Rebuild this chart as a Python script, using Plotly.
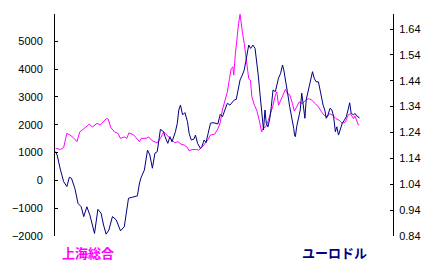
import plotly.graph_objects as go

# Shanghai Composite (left axis)
sh_years = [1999.03, 1999.26, 1999.41, 1999.56, 1999.71, 1999.86, 2000.04, 2000.17, 2000.39, 2000.62,
            2000.77, 2000.99, 2001.14, 2001.30, 2001.45, 2001.52, 2001.64, 2001.82, 2001.98, 2002.10,
            2002.28, 2002.40, 2002.50, 2002.73, 2003.00, 2003.08, 2003.31, 2003.43, 2003.61, 2003.84,
            2003.99, 2004.14, 2004.29, 2004.44, 2004.67, 2004.82, 2004.97, 2005.12, 2005.27, 2005.35,
            2005.50, 2005.65, 2005.80, 2005.95, 2006.10, 2006.25, 2006.36, 2006.56, 2006.71, 2006.82,
            2006.92, 2007.04, 2007.16, 2007.26, 2007.34, 2007.42, 2007.46, 2007.54, 2007.61, 2007.69,
            2007.76, 2007.81, 2007.88, 2007.96, 2008.03, 2008.10, 2008.17, 2008.25, 2008.32, 2008.44,
            2008.55, 2008.67, 2008.78, 2008.85, 2008.97, 2009.10, 2009.20, 2009.30, 2009.43, 2009.50,
            2009.58, 2009.65, 2009.80, 2009.91, 2010.00, 2010.11, 2010.22, 2010.33, 2010.44, 2010.56,
            2010.71, 2010.86, 2011.01, 2011.16, 2011.32, 2011.47, 2011.62, 2011.74, 2011.89, 2012.00,
            2012.15, 2012.30, 2012.45, 2012.60, 2012.75, 2012.87, 2012.98, 2013.13, 2013.20, 2013.28,
            2013.36, 2013.40]
sh_values = [1150, 1110, 1180, 1690, 1630, 1540, 1390, 1740, 1870, 2020,
             1920, 2050, 1990, 2100, 2230, 2200, 1900, 1740, 1690, 1510,
             1560, 1510, 1710, 1630, 1390, 1510, 1510, 1560, 1420, 1350,
             1510, 1740, 1630, 1510, 1350, 1390, 1300, 1270, 1180, 1060,
             1110, 1110, 1090, 1180, 1330, 1470, 1630, 1660, 1850, 2070,
             2520, 2880, 3180, 3660, 4020, 4080, 3780, 4560, 5150, 5640,
             5970, 5640, 5280, 4920, 4440, 4020, 3660, 3600, 3000, 2700,
             2520, 2160, 1740, 1870, 1920, 2160, 2400, 2640, 3060, 3180,
             2700, 2820, 3120, 3270, 3120, 3080, 2810, 2490, 2640, 2820,
             2760, 2880, 2940, 2880, 2760, 2640, 2460, 2340, 2280, 2400,
             2340, 2220, 2160, 2050, 2100, 2340, 2400, 2220, 2310, 2160,
             1990, 2010]

# EUR/USD (right axis)
eu_years = [1999.03, 1999.10, 1999.26, 1999.41, 1999.56, 1999.68, 1999.78, 1999.94, 2000.09, 2000.24,
            2000.36, 2000.51, 2000.65, 2000.74, 2000.87, 2001.03, 2001.18, 2001.30, 2001.42, 2001.55,
            2001.72, 2001.90, 2002.10, 2002.28, 2002.48, 2002.66, 2002.90, 2003.00, 2003.08, 2003.23,
            2003.38, 2003.49, 2003.61, 2003.73, 2003.84, 2003.99, 2004.14, 2004.21, 2004.34, 2004.44,
            2004.54, 2004.70, 2004.79, 2004.86, 2004.94, 2005.04, 2005.15, 2005.27, 2005.35, 2005.45,
            2005.57, 2005.65, 2005.75, 2005.88, 2005.95, 2006.06, 2006.15, 2006.25, 2006.36, 2006.48,
            2006.60, 2006.71, 2006.82, 2006.93, 2007.04, 2007.16, 2007.28, 2007.39, 2007.49, 2007.58,
            2007.66, 2007.76, 2007.87, 2007.96, 2008.03, 2008.11, 2008.17, 2008.26, 2008.37, 2008.47,
            2008.55, 2008.62, 2008.70, 2008.78, 2008.82, 2008.87, 2008.94, 2009.00, 2009.08, 2009.17,
            2009.24, 2009.32, 2009.43, 2009.50, 2009.58, 2009.68, 2009.77, 2009.83, 2009.92, 2010.00,
            2010.11, 2010.22, 2010.30, 2010.34, 2010.38, 2010.44, 2010.53, 2010.61, 2010.68, 2010.76,
            2010.83, 2010.89, 2010.98, 2011.09, 2011.19, 2011.27, 2011.36, 2011.47, 2011.54, 2011.62,
            2011.69, 2011.77, 2011.84, 2011.92, 2012.02, 2012.11, 2012.19, 2012.27, 2012.34, 2012.42,
            2012.49, 2012.60, 2012.70, 2012.79, 2012.87, 2012.95, 2013.02, 2013.13, 2013.20, 2013.28,
            2013.36, 2013.40]
eu_values = [1.166, 1.153, 1.095, 1.050, 1.031, 1.067, 1.063, 1.024, 0.966, 0.953,
             0.915, 0.953, 0.921, 0.889, 0.850, 0.943, 0.928, 0.882, 0.847, 0.863,
             0.915, 0.902, 0.860, 0.876, 0.986, 0.990, 0.995, 1.045, 1.067, 1.095,
             1.172, 1.153, 1.102, 1.160, 1.166, 1.252, 1.243, 1.224, 1.198, 1.224,
             1.204, 1.243, 1.276, 1.327, 1.346, 1.308, 1.317, 1.282, 1.237, 1.211,
             1.214, 1.230, 1.198, 1.179, 1.185, 1.211, 1.201, 1.237, 1.276, 1.278,
             1.276, 1.273, 1.310, 1.301, 1.327, 1.353, 1.346, 1.359, 1.366, 1.368,
             1.404, 1.443, 1.462, 1.482, 1.514, 1.552, 1.578, 1.565, 1.578, 1.565,
             1.520, 1.462, 1.392, 1.327, 1.276, 1.250, 1.327, 1.276, 1.262, 1.295,
             1.340, 1.404, 1.398, 1.424, 1.450, 1.469, 1.501, 1.482, 1.443, 1.398,
             1.340, 1.298, 1.256, 1.230, 1.224, 1.262, 1.295, 1.327, 1.392, 1.340,
             1.295, 1.366, 1.398, 1.443, 1.475, 1.450, 1.436, 1.436, 1.404, 1.378,
             1.346, 1.327, 1.295, 1.308, 1.334, 1.327, 1.301, 1.243, 1.262, 1.230,
             1.250, 1.276, 1.288, 1.301, 1.327, 1.355, 1.314, 1.308, 1.314, 1.304,
             1.301, 1.295]

left_ticks = [-2000, -1000, 0, 1000, 2000, 3000, 4000, 5000]
right_ticks = [0.84, 0.94, 1.04, 1.14, 1.24, 1.34, 1.44, 1.54, 1.64]
right_labels = ["0.84", "0.94", "1.04", "1.14", "1.24", "1.34", "1.44", "1.54", "1.64"]

left_name = "上海総合"
right_name = "ユーロドル"

MAGENTA = "#FF00FF"
NAVY = "#000080"
tick_font = dict(family="Liberation Sans, Arial, sans-serif", size=11, color="black")

fig = go.Figure()
fig.add_trace(go.Scatter(x=sh_years, y=sh_values, mode="lines",
                         line=dict(color=MAGENTA, width=1), yaxis="y", name=left_name))
fig.add_trace(go.Scatter(x=eu_years, y=eu_values, mode="lines",
                         line=dict(color=NAVY, width=1), yaxis="y2", name=right_name))

fig.update_layout(
    width=433, height=273,
    margin=dict(l=45, r=35, t=14, b=37),
    paper_bgcolor="white", plot_bgcolor="white",
    showlegend=False,
    xaxis=dict(range=[1999.0, 2015.0], visible=False),
    yaxis=dict(range=[-2000, 5980], tickvals=left_ticks, showgrid=False, zeroline=False,
               showline=True, linecolor="black", linewidth=1,
               ticks="inside", ticklen=3, tickcolor="black", tickwidth=1,
               tickfont=tick_font, ticklabelstandoff=9),
    yaxis2=dict(range=[0.84, 1.698], tickvals=right_ticks, ticktext=right_labels,
                overlaying="y", side="right", showgrid=False, zeroline=False,
                showline=True, linecolor="black", linewidth=1,
                ticks="inside", ticklen=3, tickcolor="black", tickwidth=1,
                tickfont=tick_font, ticklabelstandoff=3),
    annotations=[
        dict(text="<b>" + left_name + "</b>", xref="paper", yref="paper", x=0.0963, y=-0.075,
             xanchor="center", yanchor="middle", showarrow=False,
             font=dict(family="Noto Sans CJK JP", size=13, color=MAGENTA)),
        dict(text="<b>" + right_name + "</b>", xref="paper", yref="paper", x=0.826, y=-0.075,
             xanchor="center", yanchor="middle", showarrow=False,
             font=dict(family="Noto Sans CJK JP", size=13, color=NAVY)),
    ],
)

fig.write_html("out.html")
